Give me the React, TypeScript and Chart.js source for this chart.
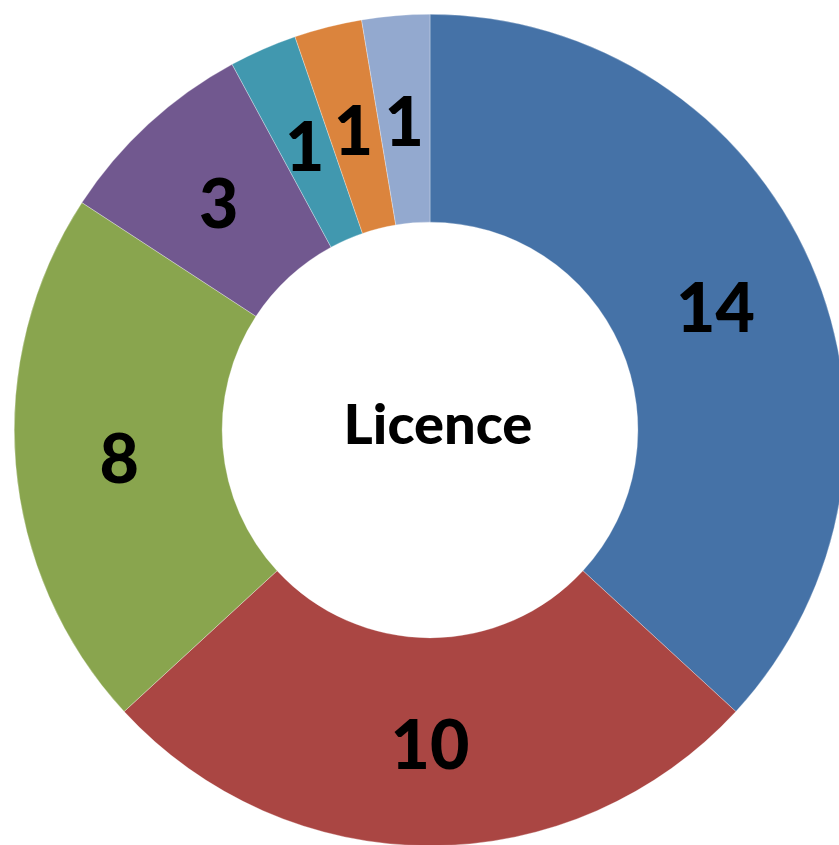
import React, { useEffect, useRef } from "react";
import { Chart, registerables } from "chart.js";

Chart.register(...registerables);

const categories = ["A", "B", "C", "D", "E", "F", "G"];
const values = [14, 10, 8, 3, 1, 1, 1];
const colors = ["#4572A7", "#AA4643", "#89A54E", "#71588F", "#4198AF", "#DB843D", "#93A9CF"];
const centerTitle = "Licence";

const labelPlugin = {
  id: "sliceLabels",
  afterDatasetsDraw(chart: any) {
    const ctx = chart.ctx;
    const meta = chart.getDatasetMeta(0);
    ctx.save();
    ctx.fillStyle = "#000";
    ctx.textAlign = "center";
    ctx.textBaseline = "middle";
    ctx.font = "900 68px Lato, 'Open Sans', sans-serif";
    meta.data.forEach((arc: any, i: number) => {
      const p = arc.getCenterPoint();
      ctx.fillText(String(values[i]), p.x, p.y + 5);
    });
    const a0: any = meta.data[0];
    ctx.font = "900 56px Lato, 'Open Sans', sans-serif";
    ctx.fillText(centerTitle, a0.x + 8, a0.y - 4);
    ctx.restore();
  },
};

export default function App() {
  const ref = useRef<HTMLCanvasElement>(null);
  useEffect(() => {
    if (!ref.current) return;
    const chart = new Chart(ref.current, {
      type: "doughnut",
      data: {
        labels: categories,
        datasets: [
          {
            data: values,
            backgroundColor: colors,
            borderColor: "rgba(255,255,255,0.6)",
            borderWidth: 0.5,
          },
        ],
      },
      options: {
        responsive: false,
        animation: false,
        devicePixelRatio: 1,
        cutout: "50%",
        layout: { padding: 14 },
        plugins: {
          legend: { display: false },
          tooltip: { enabled: false },
          title: { display: false },
        },
      },
      plugins: [labelPlugin],
    });
    return () => chart.destroy();
  }, []);
  return (
    <div
      style={{
        position: "fixed",
        left: 0,
        top: 0,
        width: 839,
        height: 845,
        overflow: "hidden",
        background: "#fff",
      }}
    >
      <canvas ref={ref} width={860} height={860} style={{ width: 860, height: 860, display: "block" }} />
    </div>
  );
}
